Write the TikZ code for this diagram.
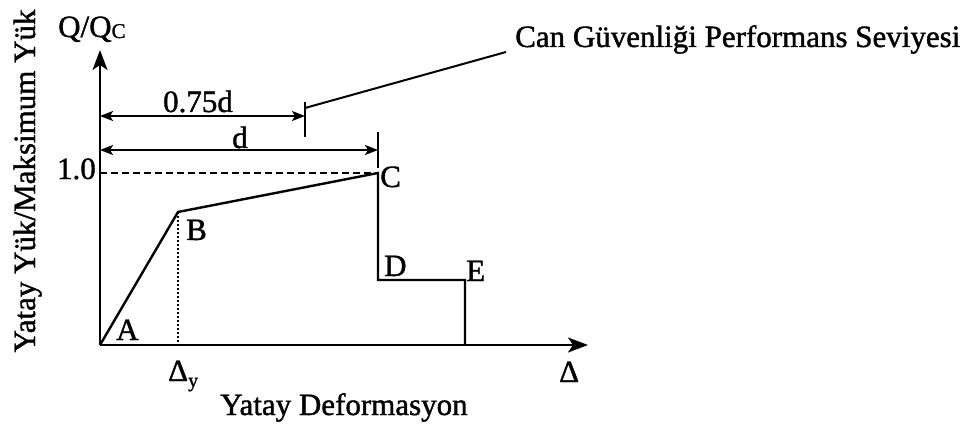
\documentclass[tikz,border=0pt]{standalone}
\usepackage{fontspec}
\setmainfont{Liberation Serif}[FakeBold=1.3]
\usetikzlibrary{arrows.meta}
\begin{document}
\begin{tikzpicture}[x=1pt,y=-1pt,
  lbl/.style={inner sep=0pt,font=\fontsize{31}{36}\selectfont},
  axis/.style={line width=2.4pt,-{Stealth[length=20pt,width=15pt,inset=5pt]}},
  curve/.style={line width=2.4pt,line join=miter},
  dim/.style={line width=2pt,{Stealth[length=13pt,width=10pt,inset=3pt]}-{Stealth[length=13pt,width=10pt,inset=3pt]}},
  tick/.style={line width=2pt},
  guide/.style={line width=1.7pt,dash pattern=on 7pt off 4pt},
  dotguide/.style={line width=1.4pt,dash pattern=on 2pt off 2pt}]
\useasboundingbox (0,0) rectangle (970,425);
% points
\coordinate (O) at (100,345);
\coordinate (ytop) at (100,50);
\coordinate (xend) at (588,345);
\coordinate (A) at (100,345);
\coordinate (B) at (178,212);
\coordinate (C) at (378,173);
\coordinate (D) at (378,280);
\coordinate (E) at (465,280);
\coordinate (Ex) at (465,345);
\coordinate (By) at (178,345);
\coordinate (C10) at (100,173);
\coordinate (dimAs) at (100,116);
\coordinate (dimAe) at (305,116);
\coordinate (dimBs) at (100,150);
\coordinate (dimBe) at (378,150);
\coordinate (tAtop) at (305,102);
\coordinate (tAbot) at (305,137);
\coordinate (tBtop) at (378,132);
\coordinate (tBbot) at (378,168);
\coordinate (leadS) at (305,108);
\coordinate (leadE) at (506,52);
% guides
\draw[guide] (C10) -- (C);
\draw[dotguide] (B) -- (By);
% axes
\draw[axis] (O) -- (ytop);
\draw[axis] (O) -- (xend);
% curve
\draw[curve] (A) -- (B) -- (C) -- (D) -- (E) -- (Ex);
% dimensions
\draw[dim] (dimAs) -- (dimAe);
\draw[dim] (dimBs) -- (dimBe);
\draw[tick] (tAtop) -- (tAbot);
\draw[tick] (tBtop) -- (tBbot);
\draw[tick] (leadS) -- (leadE);
% labels
\node[lbl,anchor=base west] (cgps) at (515,47) {Can Güvenliği Performans Seviyesi};
\node[lbl,anchor=base west] (qq) at (58,37) {Q/Q\raisebox{-1pt}{\fontsize{21}{21}\selectfont C}};
\node[lbl,anchor=base,rotate=90] (ylab) at (35,181) {Yatay Yük/Maksimum Yük};
\node[lbl,anchor=base] (xlab) at (344,415) {Yatay Deformasyon};
\node[lbl,anchor=base east] (one) at (96,179) {1.0};
\node[lbl,anchor=base] (d75) at (198,112) {0.75d};
\node[lbl,anchor=base] (dd) at (240,148) {d};
\node[lbl,anchor=base west] (lA) at (116,340) {A};
\node[lbl,anchor=base west] (lB) at (186,240) {B};
\node[lbl,anchor=base west] (lC) at (380,187) {C};
\node[lbl,anchor=base west] (lD) at (384,276) {D};
\node[lbl,anchor=base west] (lE) at (466,281) {E};
\node[lbl,anchor=base west] (ldy) at (168,381) {Δ\raisebox{-6pt}{\fontsize{20}{20}\selectfont y}};
\node[lbl,anchor=base west] (ldx) at (559,382) {Δ};
\end{tikzpicture}
\end{document}
